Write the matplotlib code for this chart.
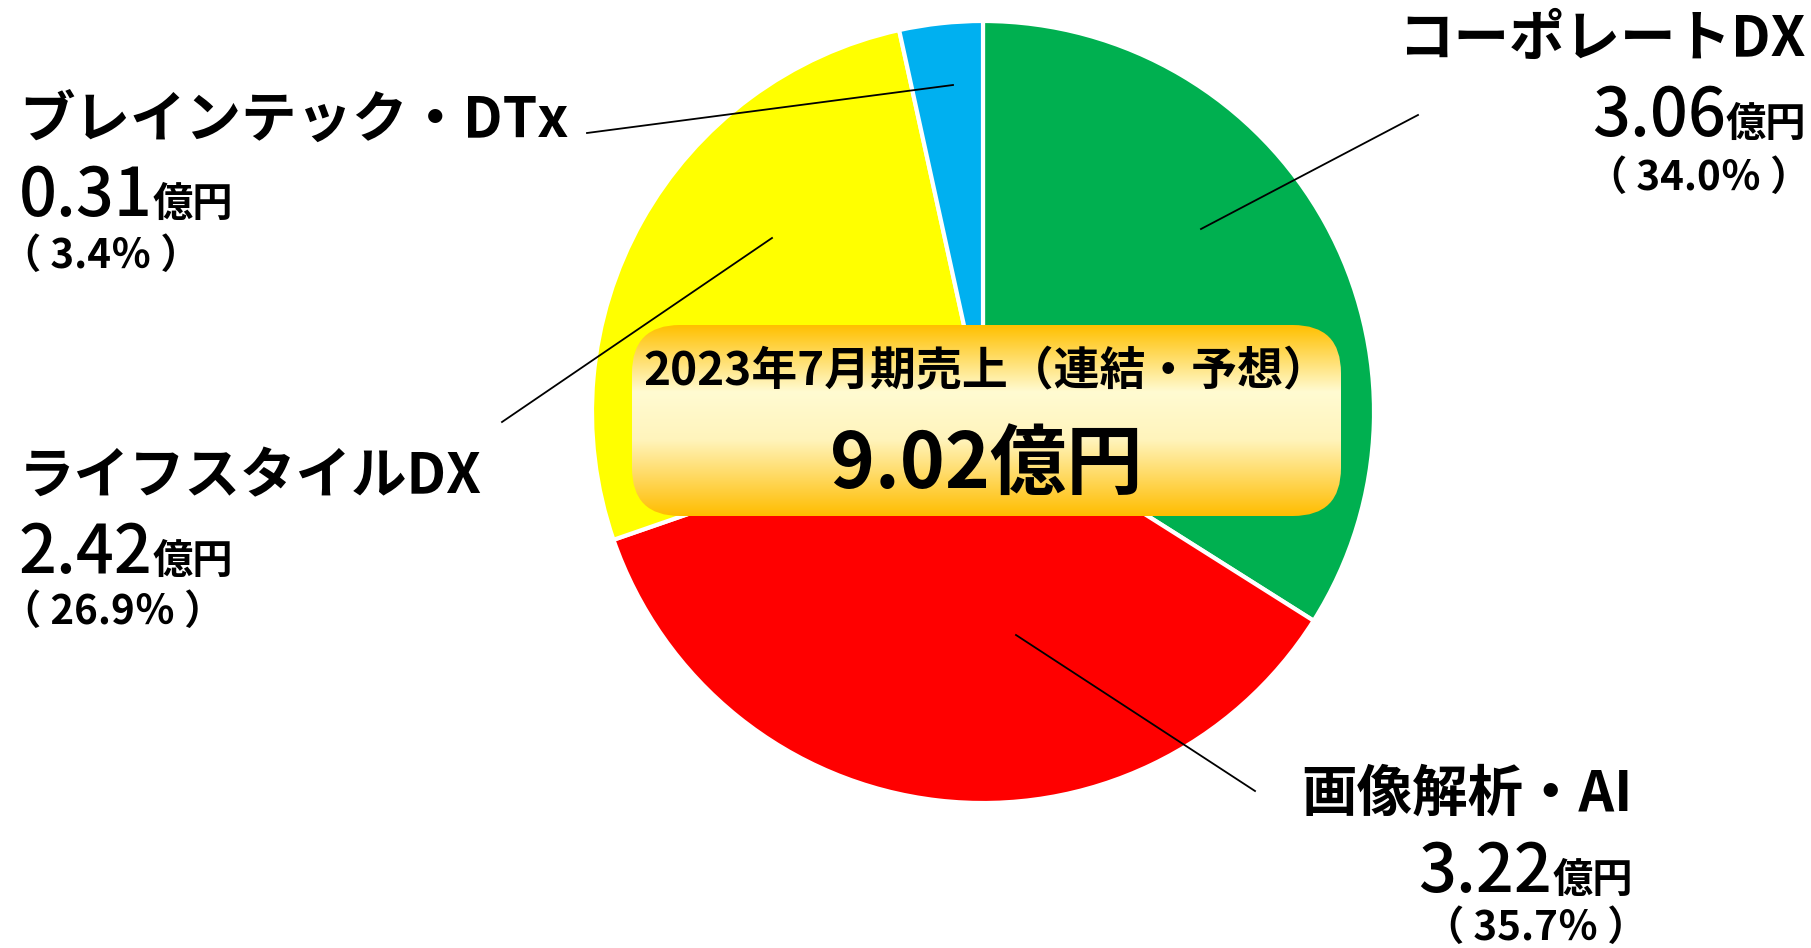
import matplotlib
matplotlib.use('Agg')
import matplotlib.pyplot as plt
import numpy as np
from matplotlib.patches import FancyBboxPatch
from matplotlib.colors import LinearSegmentedColormap

plt.rcParams['font.family'] = ['Noto Sans CJK JP', 'DejaVu Sans']

# data
segments = ['コーポレートDX', '画像解析・AI', 'ライフスタイルDX', 'ブレインテック・DTx']
sales = [3.06, 3.22, 2.42, 0.31]      # 億円
shares = [34.0, 35.7, 26.9, 3.4]      # %
colors = ['#00B050', '#FF0000', '#FFFF00', '#00B0F0']
total = 9.02
title = '2023年7月期売上（連結・予想）'

W, H = 1811, 948
fig = plt.figure(figsize=(W / 100, H / 100), dpi=100)
ax = fig.add_axes([0, 0, 1, 1])


def Y(y):
    return H - y


ax.pie(sales, colors=colors, startangle=90, counterclock=False,
       center=(983, Y(412)), radius=391,
       wedgeprops=dict(edgecolor='white', linewidth=3))
ax.set_xlim(0, W)
ax.set_ylim(0, H)
ax.set_aspect('equal')
ax.axis('off')

# leader lines (pie end -> label end)
leaders = [((1201, 229), (1418, 115)),
           ((1016, 635), (1255, 791)),
           ((772, 238), (502, 422)),
           ((953, 85), (587, 133))]
for (x0, y0), (x1, y1) in leaders:
    ax.plot([x0, x1], [Y(y0), Y(y1)], color='black', lw=1.3, zorder=3)

# label layout: x, ha, name y, value baseline, share y, share x
layout = [(1806, 'right', 40, 136, 178, 1810),
          (1633, 'right', 795, 892, 928, 1648),
          (19, 'left', 477, 573, 612, 1),
          (19, 'left', 121, 216, 256, 1)]

fig.canvas.draw()
renderer = fig.canvas.get_renderer()

for name, val, pct, (x, ha, yn, yv, ys, xs) in zip(segments, sales, shares, layout):
    ax.text(x, Y(yn), name, ha=ha, va='center', fontsize=40,
            fontweight='bold', color='black')
    if ha == 'right':
        t = ax.text(x, Y(yv), '億円', ha='right', va='baseline',
                    fontsize=29, fontweight='bold')
        w = t.get_window_extent(renderer).width
        ax.text(x - w, Y(yv), f'{val:.2f}', ha='right', va='baseline',
                fontsize=48, fontweight='medium')
    else:
        t = ax.text(x, Y(yv), f'{val:.2f}', ha='left', va='baseline',
                    fontsize=48, fontweight='medium')
        w = t.get_window_extent(renderer).width
        ax.text(x + w, Y(yv), '億円', ha='left', va='baseline',
                fontsize=29, fontweight='bold')
    ax.text(xs, Y(ys), f'（ {pct:.1f}％ ）', ha=ha, va='center',
            fontsize=29, fontweight='semibold')

# center box with vertical gradient
bx0, bx1, by0, by1 = 632, 1341, 325, 516
box = FancyBboxPatch((bx0, Y(by1)), bx1 - bx0, by1 - by0,
                     boxstyle='round,pad=0,rounding_size=48',
                     facecolor='none', edgecolor='none', zorder=4)
ax.add_patch(box)
cmap = LinearSegmentedColormap.from_list(
    'gold', [(0.0, '#FFC000'), (0.35, '#FFFBD2'), (0.6, '#FFF4BC'),
             (1.0, '#FFBD00')])
grad = np.linspace(0, 1, 256).reshape(-1, 1)
im = ax.imshow(grad, cmap=cmap, aspect='auto', zorder=4,
               extent=(bx0, bx1, Y(by1), Y(by0)), origin='upper')
im.set_clip_path(box)
ax.set_xlim(0, W)
ax.set_ylim(0, H)

ax.text(986, Y(372), title, ha='center', va='center', fontsize=33,
        fontweight='bold', zorder=5)
ax.text(986, Y(465), f'{total:.2f}億円', ha='center', va='center',
        fontsize=55, fontweight='bold', zorder=5)

fig.savefig('out.png', dpi=100)
